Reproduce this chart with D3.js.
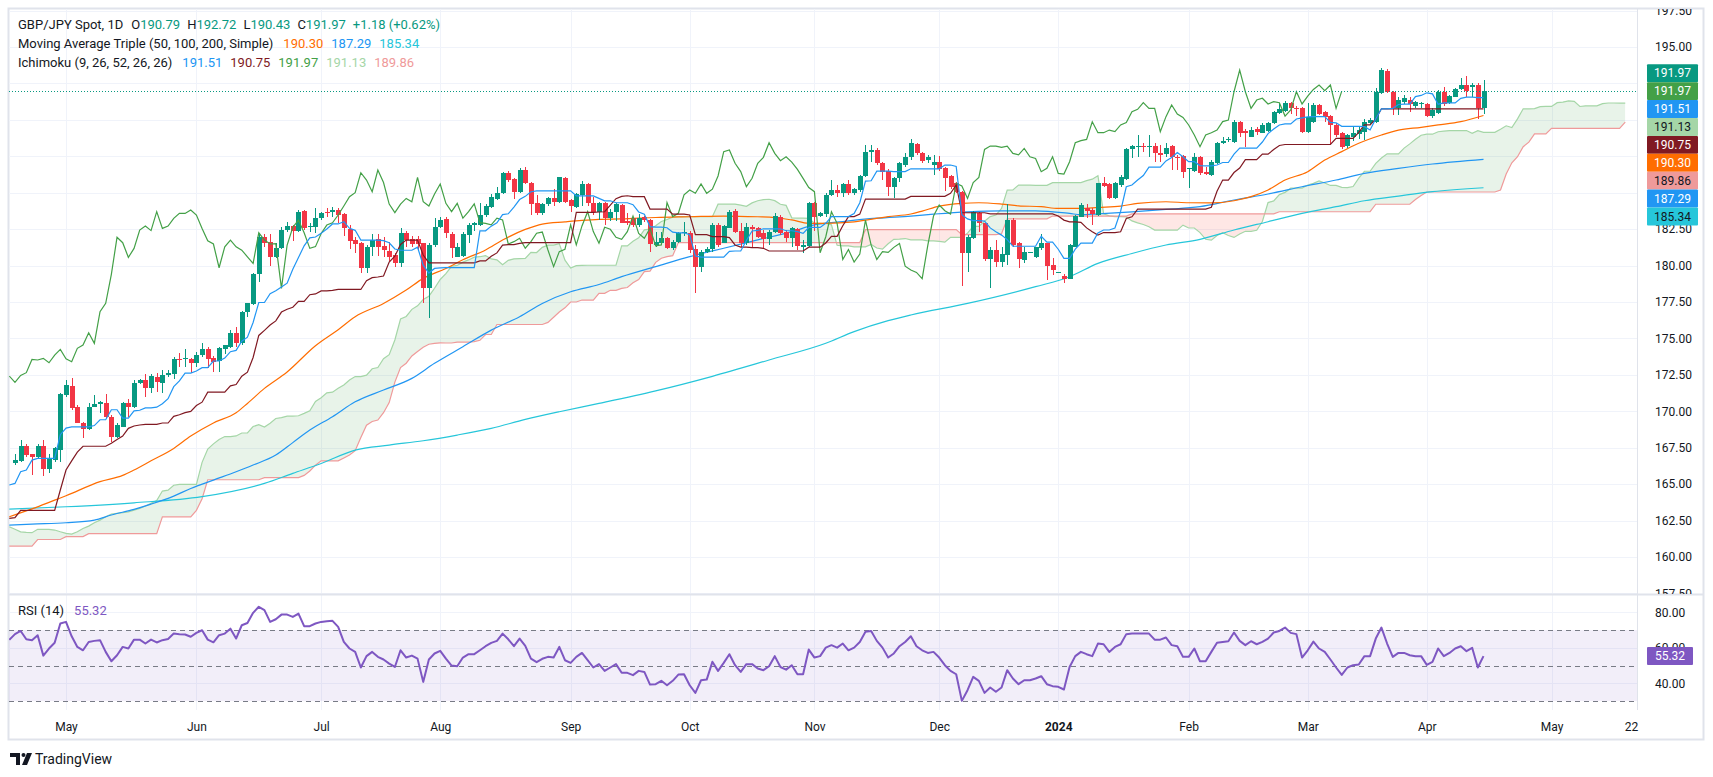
<!DOCTYPE html>
<html><head><meta charset="utf-8">
<script src="https://cdn.jsdelivr.net/npm/d3@7"></script>
<style>
body{margin:0;background:#fff;}
svg{display:block;font-family:Roboto,"Noto Sans",sans-serif;}
</style></head>
<body><svg id="c" width="1713" height="777"></svg>
<script>
// ---------------- DATA ----------------
const firstBar = -9; // bar index of first candle (0 = 1 May 2023, weekday bars)
const openP = [166.43,166.61,167.61,167.06,166.88,167.61,166.04,166.65,167.34,
171.11,171.73,170.31,169.17,168.76,170.31,170.5,170.6,169.63,168.26,
168.94,170.54,170.27,171.91,172.14,171.57,172.37,171.96,172.46,172.56,
173.6,173.56,173.6,173.29,173.86,174.25,173.63,173.47,174.25,174.43,
175.39,174.66,176.83,177.36,179.42,181.94,181.6,180.56,181.18,182.44,
182.71,182.4,183.74,182.62,182.67,183.24,183.7,183.7,183.81,183.54,
182.48,181.75,181.57,179.85,181.29,181.8,181.34,181.02,180.72,180.2,
182.25,181.8,181.8,181.52,178.43,181.41,182.62,183.17,182.2,180.6,
180.65,182.1,182.78,182.78,183.47,184.04,184.54,184.95,186.33,185.92,
185.07,186.56,185.7,184.31,183.63,184.22,184.61,184.38,185.98,184.5,
184.0,184.84,185.6,184.27,183.7,184.27,183.25,183.7,184.16,183.09,
183.25,182.79,183.31,183.13,181.42,181.53,181.87,181.19,181.6,182.22,
182.22,181.12,179.93,180.96,181.12,182.79,181.57,182.56,183.77,182.4,
181.58,182.67,182.56,182.22,181.8,182.33,183.36,182.33,181.87,182.49,
181.3,181.35,184.27,183.4,183.54,184.85,185.19,184.96,185.6,184.96,
185.19,186.15,187.82,187.93,187.07,186.5,185.42,185.99,186.9,187.42,
188.32,187.74,187.24,186.9,187.12,186.67,186.14,185.68,185.07,180.88,
181.86,183.63,182.9,180.42,181.1,180.24,180.74,183.12,181.56,180.38,
180.88,180.6,181.18,181.52,180.03,179.5,179.28,179.1,181.3,183.35,
183.92,183.81,183.47,185.64,185.6,184.61,185.53,185.92,187.97,188.18,
188.2,188.18,188.2,187.7,187.65,188.2,187.47,187.51,186.6,186.51,
187.42,186.44,186.21,187.06,188.39,188.62,188.5,189.87,189.26,188.85,
189.35,189.12,189.26,189.76,190.49,190.63,191.18,190.83,190.79,189.19,
189.87,191.02,190.56,190.26,189.65,189.12,188.2,188.85,189.03,189.19,
189.81,189.88,191.86,193.38,191.93,190.79,191.25,191.36,190.95,191.09,
191.09,190.26,190.49,191.93,191.13,191.59,192.09,192.39,192.27,192.39,
190.79];
const highP = [167.06,168.0,167.73,167.1,167.73,168.0,167.06,167.57,171.23,
172.14,172.3,170.43,169.28,170.59,171.1,170.73,171.16,169.74,169.22,
170.66,170.82,172.14,172.23,172.56,172.56,172.65,172.83,172.83,173.75,
173.97,174.25,173.63,174.09,174.71,174.39,173.79,174.43,174.55,175.58,
175.76,176.9,177.45,179.47,182.21,182.16,182.16,181.57,182.62,183.01,
182.78,183.81,183.81,182.9,183.92,183.7,183.92,184.0,183.92,183.63,
182.78,181.93,181.64,181.38,182.16,182.16,181.98,181.64,180.88,182.6,
182.39,182.03,182.0,181.57,181.57,183.24,183.31,183.35,182.32,181.52,
182.3,182.94,183.0,184.27,184.22,184.91,185.37,186.44,186.51,185.98,
186.67,186.79,185.76,184.84,184.27,184.73,185.23,186.1,186.1,184.54,
184.95,185.83,185.69,184.69,184.38,184.39,183.86,184.32,184.23,183.63,
183.36,183.54,183.4,183.18,182.33,182.33,181.94,181.76,182.33,183.02,
182.4,181.42,181.07,181.26,182.9,182.9,182.79,183.82,183.86,182.9,
182.9,182.79,182.67,182.44,182.44,183.59,183.47,182.44,182.63,182.56,
181.76,184.39,184.39,183.7,184.96,185.88,185.53,185.69,185.88,185.3,
186.22,188.28,188.28,188.05,187.13,186.6,186.1,187.13,187.71,188.66,
188.38,187.81,187.58,187.58,187.51,186.74,186.21,185.75,185.14,182.09,
183.74,183.69,182.94,181.29,181.75,181.29,184.22,183.24,181.63,181.29,
180.93,181.29,182.2,181.56,180.49,179.55,179.42,181.45,183.47,184.31,
184.22,183.92,185.69,186.1,185.69,185.75,186.21,188.04,188.27,188.96,
188.43,188.96,188.43,188.27,188.38,188.27,187.58,187.58,186.67,187.7,
187.51,186.78,187.24,188.5,188.85,188.85,189.99,189.94,189.35,189.49,
189.49,189.76,189.88,190.63,191.18,191.32,191.25,190.95,190.9,191.13,
191.13,191.09,190.63,190.33,189.76,189.19,189.03,189.58,189.49,190.04,
190.1,192.16,193.54,193.47,192.0,191.59,191.7,191.54,191.32,191.25,
191.18,190.79,192.05,192.23,191.7,192.16,192.85,193.01,192.55,192.5,
192.72];
const lowP = [166.29,166.54,166.88,165.63,166.77,165.56,165.74,166.54,166.54,
171.0,170.09,169.17,168.14,168.71,170.27,169.86,169.5,167.91,168.2,
168.9,169.63,170.2,171.87,171.0,171.27,171.34,171.27,172.37,172.19,
173.06,173.06,172.6,173.06,173.75,172.94,172.72,172.72,173.93,174.34,
174.43,174.57,176.49,177.29,178.9,181.3,180.0,180.5,181.11,182.33,
181.71,182.33,182.44,182.32,182.25,183.12,183.31,183.31,182.9,182.03,
181.11,180.84,179.5,179.5,180.65,180.65,180.6,180.33,179.92,179.92,
181.3,181.3,181.0,177.45,176.37,181.3,182.55,181.87,180.5,180.56,
180.6,181.52,182.39,182.71,183.35,183.93,184.5,184.91,185.76,184.54,
185.0,185.6,183.47,183.47,183.47,184.09,184.09,184.31,184.27,183.7,
183.93,184.09,184.09,183.47,183.12,182.79,183.08,183.08,182.9,182.79,
182.67,182.67,183.02,180.96,181.3,181.42,181.12,181.07,181.53,182.03,
180.84,178.14,179.58,180.89,180.96,181.3,181.53,182.56,182.26,181.3,
181.42,181.19,181.87,181.19,181.42,182.21,182.1,181.64,181.26,181.07,
180.84,181.26,182.4,183.31,183.36,184.78,184.69,184.69,184.85,184.85,
185.08,186.1,187.13,186.9,185.88,184.78,184.62,185.76,186.79,187.24,
187.58,187.02,187.02,186.21,186.51,185.14,185.23,184.95,178.59,179.58,
181.8,182.32,180.33,178.43,179.87,179.92,180.04,181.29,179.8,180.15,
180.84,180.49,181.1,179.0,179.35,179.48,178.78,179.05,181.25,183.31,
183.24,182.78,183.4,185.37,184.54,184.54,185.41,185.87,187.35,187.47,
187.81,187.42,187.12,187.12,187.42,186.55,186.55,185.98,185.3,186.44,
186.21,186.21,186.14,186.97,188.34,188.5,188.43,188.8,188.12,188.8,
188.96,189.08,189.19,189.71,190.4,190.56,190.4,190.26,189.12,189.12,
189.81,190.33,189.87,188.34,188.85,187.98,188.04,188.57,188.66,188.62,
189.65,189.81,191.77,191.86,190.33,190.33,191.09,190.56,190.79,190.79,
190.17,190.1,190.4,190.95,191.09,191.54,192.05,191.59,191.54,190.04,
190.43];
const closeP = [166.65,167.61,167.0,166.88,167.61,166.04,166.7,167.45,171.16,
171.8,170.2,169.2,168.76,170.31,170.5,170.65,169.63,168.21,169.06,
170.54,170.31,171.96,172.14,171.57,172.42,171.98,172.46,172.65,173.56,
173.52,173.63,173.33,173.86,174.25,173.6,173.4,174.32,174.55,175.39,
174.66,176.83,177.41,179.4,181.94,181.57,180.56,181.18,182.44,182.71,
182.4,183.7,182.55,182.71,183.24,183.58,183.58,183.81,183.47,182.55,
181.7,181.48,179.85,181.29,181.75,181.29,181.06,180.6,180.15,182.25,
181.75,181.48,181.5,178.43,181.41,182.62,183.12,182.25,181.18,181.3,
182.2,182.78,182.94,183.47,184.09,184.73,185.0,186.37,185.87,185.07,
186.56,185.7,184.22,183.63,184.22,184.61,184.38,186.05,184.38,184.09,
184.91,185.6,184.27,183.7,184.27,183.25,183.7,184.23,182.95,182.9,
182.79,183.25,183.13,181.48,181.64,181.87,181.19,181.64,182.22,182.3,
181.07,179.93,180.96,181.12,182.79,181.42,182.72,183.7,182.33,181.53,
182.63,182.49,181.94,181.8,182.33,183.4,182.21,181.87,182.56,181.35,
181.42,184.32,183.36,183.59,184.85,185.19,184.96,185.6,184.96,185.24,
186.15,187.82,187.93,187.02,186.45,185.42,185.99,187.02,187.43,188.43,
187.7,187.2,187.47,187.1,186.6,185.98,185.36,185.07,180.88,181.98,
183.69,182.9,180.42,181.1,180.24,180.79,183.12,181.4,180.42,180.95,
180.9,181.25,181.52,179.96,179.69,179.53,179.1,181.41,183.4,184.15,
183.76,183.54,185.64,185.46,184.61,185.69,186.05,187.97,188.2,188.2,
188.11,188.2,187.7,187.6,188.04,187.47,187.35,186.44,186.67,187.47,
186.33,186.28,187.13,188.43,188.57,188.66,189.87,189.12,189.12,189.3,
189.19,189.65,189.81,190.56,190.72,191.18,190.79,190.79,189.19,190.22,
191.02,190.4,190.17,189.65,188.96,188.16,188.96,189.12,189.3,189.88,
189.99,191.93,193.42,191.93,190.79,191.36,191.48,191.09,191.25,191.18,
190.26,190.68,191.93,191.09,191.63,192.09,192.39,192.0,192.39,190.79,
191.97];

const rsiFirst = -10;
const rsiVals = [64.5,67.7,69.5,64.8,64.3,67.1,55.6,59.6,62.8,73.7,
74.6,66.5,60.5,58.6,63.3,63.9,64.3,57.7,52.4,55.8,
60.5,59.6,64.6,64.6,62.4,64.6,63.0,64.3,65.0,68.0,
67.7,67.5,66.2,68.4,69.9,64.6,63.1,67.1,68.0,70.8,
65.2,72.7,74.0,79.7,83.1,81.2,74.6,76.1,78.7,78.7,
77.4,79.3,72.2,72.2,73.7,74.6,75.0,75.2,71.8,63.3,
59.6,57.7,48.9,55.3,57.7,54.9,53.4,51.1,49.2,58.6,
54.5,55.6,53.9,40.8,53.4,56.8,58.3,53.9,50.0,49.6,
54.5,56.4,56.4,58.6,60.9,62.8,63.9,68.0,64.8,60.9,
65.2,61.1,53.9,51.9,53.8,54.9,54.5,60.5,53.0,51.5,
54.9,57.1,53.0,48.9,50.8,47.0,48.9,50.8,45.9,45.9,
44.6,47.0,46.4,39.3,39.5,41.4,38.9,41.4,44.9,45.1,
38.9,34.6,41.7,42.1,52.1,47.0,51.5,56.4,50.2,46.4,
50.8,50.8,48.3,47.4,49.6,55.3,49.2,47.7,50.2,45.1,
45.1,59.0,54.5,55.3,60.1,61.5,60.1,62.4,58.6,60.1,
63.3,69.0,69.5,63.9,60.1,54.5,56.8,60.9,63.3,66.5,
60.9,58.6,57.1,57.7,54.5,50.2,47.0,45.1,30.1,36.1,
43.6,41.4,34.6,37.6,35.2,37.6,47.4,42.7,39.5,41.7,
41.7,42.7,44.0,39.5,38.4,38.0,36.5,49.2,55.3,57.7,
56.4,55.3,62.4,62.0,57.7,60.5,62.0,67.7,68.0,68.0,
68.0,68.0,64.6,64.6,65.8,61.5,60.9,54.9,54.9,59.6,
52.4,52.4,57.7,62.8,63.3,63.7,68.6,63.9,61.5,63.7,
62.0,63.3,65.2,68.6,69.5,71.4,68.4,67.7,54.5,58.6,
63.5,59.6,57.7,53.4,48.9,44.7,48.9,50.2,50.6,55.3,
55.3,65.2,71.4,62.4,54.9,57.1,57.1,55.8,55.3,55.3,
50.4,52.1,59.6,55.3,57.1,59.6,60.9,58.1,60.0,48.9,
55.32];

const ichiHeadFirst = -10;
const tenkanHead = [164.94,165.05,165.85,165.97,166.65,166.77,166.77,166.77,166.77]; // bars -10..-2
const kijunHead = [162.65,162.7,163.2,163.2,163.2,163.2,163.2,163.2,163.2,164.6,165.97,166.6,167.2,
167.6,167.6,167.6,167.6,167.6,167.8,168.07,168.3,168.83,168.99,169.06,169.1,169.1]; // -10..15
const spanAHead = [162.08,161.9,161.73,161.69,161.67,161.9,161.9,161.9,161.85,161.73,161.62,161.57,
161.73,161.96,162.12,162.35,162.53,162.76,162.95,163.0,163.04,163.1,163.22,163.34,163.5,163.68]; // -10..15
const spanBHead = [160.75,160.75,160.75,160.75,160.75,161.2,161.2,161.2,161.2,161.2,
161.4,161.4,161.4,161.4,161.6,161.6,161.6,161.6,161.6,161.6,161.6,161.6,161.6,161.6,161.6,161.6,161.6,
162.76,162.76,162.76,162.76,162.76,162.76,163.2,164.0,
165.3,165.3,165.3,165.3,165.3,165.3,165.3,165.3,165.3,165.3,
165.45,165.45,165.45,165.45,165.45,165.45,165.45,
165.6,165.9,166.3,166.6,166.6,166.6,166.6,166.8,167.0,167.3,168.2,169.05,169.3,169.4,169.9,
170.6,172.0,173.0,173.3,173.8,174.1,174.4,174.6,174.66,174.7]; // -10..66
const ichiShift = 25;

// Moving averages: [bar, value]
const ma50 = [[-10,162.76],[-6,163.3],[-2,163.9],[0,164.2],[6,165.17],[10,165.6],[12,165.97],[15,166.6],
[19,167.45],[22,168.3],[26,169.2],[30,169.9],[32,170.54],[35,171.57],[39,172.7],[44,174.5],[48,175.6],
[51,176.49],[56,177.4],[60,178.32],[63,179.12],[67,179.8],[70,180.4],[74,181.07],[77,181.75],[81,182.48],
[84,182.85],[88,183.0],[91,183.1],[94,183.17],[98,183.2],[104,183.3],[110,183.35],[116,183.4],[122,183.35],
[125,183.3],[128,183.13],[131,182.9],[134,182.9],[139,183.0],[145,183.36],[149,183.54],[151,183.74],
[154,184.08],[158,184.27],[161,184.31],[165,184.22],[168,184.1],[172,184.04],[175,183.92],[179,183.92],
[182,183.99],[186,184.08],[189,184.27],[194,184.38],[198,184.31],[202,184.3],[206,184.45],[209,184.73],
[212,185.19],[215,185.87],[219,186.44],[222,187.24],[225,187.82],[228,188.39],[232,188.96],[235,189.3],
[239,189.49],[242,189.65],[246,189.88],[250,190.30]];
const ma100 = [[-10,162.19],[-6,162.26],[0,162.35],[5,162.53],[8,162.88],[12,163.27],[15,163.63],[19,164.18],
[22,164.7],[26,165.28],[30,165.85],[33,166.31],[37,167.0],[40,167.85],[43,168.71],[47,169.63],[51,170.65],
[56,171.46],[61,172.26],[65,173.29],[70,174.43],[75,175.57],[80,176.49],[84,177.4],[89,178.2],[94,178.7],
[98,179.24],[104,179.93],[110,180.61],[116,181.19],[122,181.76],[128,182.33],[132,182.79],[137,183.02],
[143,183.25],[149,183.4],[153,183.53],[159,183.69],[165,183.76],[171,183.76],[177,183.58],[179,183.49],
[182,183.55],[188,183.69],[194,183.85],[200,184.04],[206,184.5],[212,184.91],[218,185.41],[224,185.87],
[229,186.33],[235,186.67],[241,186.97],[250,187.29]];
const ma200 = [[-10,163.29],[0,163.45],[12,163.72],[24,164.14],[35,165.05],[40,165.74],[45,166.42],
[51,167.34],[57,167.68],[63,167.98],[69,168.37],[75,168.83],[81,169.44],[87,169.97],[94,170.54],
[104,171.4],[114,172.4],[124,173.52],[134,174.67],[139,175.47],[145,176.22],[149,176.61],[159,177.4],
[171,178.55],[177,179.23],[182,180.15],[188,180.83],[194,181.41],[200,181.8],[206,182.44],[212,183.01],
[218,183.58],[224,184.04],[229,184.45],[235,184.77],[241,185.07],[250,185.34]];

// Legend / last readings
const lastOHLC = {o:190.79, h:192.72, l:190.43, c:191.97, chg:"+1.18", pct:"(+0.62%)"};
const maLast = [190.30, 187.29, 185.34];
const ichiLast = [191.51, 190.75, 191.97, 191.13, 189.86]; // tenkan, kijun, chikou, spanA, spanB
const rsiLast = 55.32;

const priceTicks = [157.5,160,162.5,165,167.5,170,172.5,175,177.5,180,182.5,185,187.5,190,192.5,195,197.5];
const rsiTicks = [80,60,40];
const rsiLevels = [70,50,30];
const timeTickBars = [0,23,45,66,89,110,132,154,175,198,219,240,262,276];
const timeTickLabels = ["May","Jun","Jul","Aug","Sep","Oct","Nov","Dec","2024","Feb","Mar","Apr","May","22"];

// ---------------- LAYOUT ----------------
const L = 9, R = 1637, T = 9, MB = 594, RT = 595, RB = 710, AXB = 739, FR = 1703;
const C = {up:"#089981", dn:"#F23645", grid:"#f0f3fa", border:"#e0e3eb", text:"#131722",
  ma50:"#FF6D00", ma100:"#2196F3", ma200:"#26C6DA", tenkan:"#2196F3", kijun:"#801922",
  chikou:"#43A047", spanA:"#A5D6A7", spanB:"#EF9A9A", rsi:"#7E57C2"};

const svg = d3.select("#c");
const x = d3.scaleLinear().domain([0,240]).range([66,1426.8]);
const y = d3.scaleLinear().domain([160,195]).range([557,47]);
const yr = d3.scaleLinear().domain([40,80]).range([683.3,612.3]);

// frame
svg.append("rect").attr("x",0).attr("y",0).attr("width",1713).attr("height",777).attr("fill","#fff");
svg.append("rect").attr("x",L-0.5).attr("y",T-0.5).attr("width",FR-L+1).attr("height",AXB-T+1)
  .attr("fill","none").attr("stroke",C.border).attr("stroke-width",2);

const defs = svg.append("defs");
defs.append("clipPath").attr("id","clipMain").append("rect").attr("x",L).attr("y",T).attr("width",R-L).attr("height",MB-T);
defs.append("clipPath").attr("id","clipRsi").append("rect").attr("x",L).attr("y",RT).attr("width",R-L).attr("height",RB-RT);
defs.append("clipPath").attr("id","clipAxis").append("rect").attr("x",R).attr("y",T).attr("width",FR-R).attr("height",MB-T);

// grids
const gGrid = svg.append("g");
gGrid.selectAll(".hg").data(priceTicks).join("line")
  .attr("x1",L).attr("x2",R).attr("y1",d=>Math.round(y(d))+0.5).attr("y2",d=>Math.round(y(d))+0.5)
  .attr("stroke",C.grid);
gGrid.selectAll(".rg").data(rsiTicks).join("line")
  .attr("x1",L).attr("x2",R).attr("y1",d=>Math.round(yr(d))+0.5).attr("y2",d=>Math.round(yr(d))+0.5)
  .attr("stroke",C.grid);
gGrid.selectAll(".vg").data(timeTickBars.slice(0,-1)).join("line")
  .attr("x1",d=>Math.round(x(d))+0.5).attr("x2",d=>Math.round(x(d))+0.5).attr("y1",T).attr("y2",RB)
  .attr("stroke",C.grid);

// ---------------- computed Ichimoku ----------------
const bar = i => i - firstBar;
function hh(a,b){let m=-Infinity;for(let j=a;j<=b;j++)m=Math.max(m,highP[bar(j)]);return m;}
function ll(a,b){let m=Infinity;for(let j=a;j<=b;j++)m=Math.min(m,lowP[bar(j)]);return m;}
const lastBar = firstBar + closeP.length - 1;
function tenkan(i){ return i < -1 ? tenkanHead[i-ichiHeadFirst] : (hh(i-8,i)+ll(i-8,i))/2; }
function kijun(i){ return i < 16 ? kijunHead[i-ichiHeadFirst] : (hh(i-25,i)+ll(i-25,i))/2; }
function spanA(i){ return i < 16 ? spanAHead[i-ichiHeadFirst] : (tenkan(i-ichiShift)+kijun(i-ichiShift))/2; }
function spanB(i){ return i < 67 ? spanBHead[i-ichiHeadFirst] : (hh(i-76,i-25)+ll(i-76,i-25))/2; }

const main = svg.append("g").attr("clip-path","url(#clipMain)");

// cloud
const cloud = d3.range(-10, lastBar+ichiShift+1).map(i=>({i,a:spanA(i),b:spanB(i)}));
defs.append("clipPath").attr("id","abvB").append("path")
  .attr("d", d3.area().x(d=>x(d.i)).y0(T).y1(d=>y(d.b))(cloud));
defs.append("clipPath").attr("id","blwB").append("path")
  .attr("d", d3.area().x(d=>x(d.i)).y0(MB).y1(d=>y(d.b))(cloud));
main.append("path").attr("clip-path","url(#abvB)")
  .attr("d", d3.area().x(d=>x(d.i)).y0(MB).y1(d=>y(d.a))(cloud)).attr("fill","rgba(67,160,71,0.12)");
main.append("path").attr("clip-path","url(#blwB)")
  .attr("d", d3.area().x(d=>x(d.i)).y0(T).y1(d=>y(d.a))(cloud)).attr("fill","rgba(244,67,54,0.13)");
const ln = d3.line().x(d=>x(d[0])).y(d=>y(d[1]));
main.append("path").attr("d", ln(cloud.map(d=>[d.i,d.a]))).attr("fill","none").attr("stroke",C.spanA).attr("stroke-width",1.2);
main.append("path").attr("d", ln(cloud.map(d=>[d.i,d.b]))).attr("fill","none").attr("stroke",C.spanB).attr("stroke-width",1.2);

// MAs
const lnS = d3.line().x(d=>x(d[0])).y(d=>y(d[1])).curve(d3.curveMonotoneX);
[[ma200,C.ma200],[ma100,C.ma100],[ma50,C.ma50]].forEach(([d,c])=>{
  main.append("path").attr("d",lnS(d)).attr("fill","none").attr("stroke",c).attr("stroke-width",1.2);
});

// candles
const bars = closeP.map((c,k)=>({i:firstBar+k,o:openP[k],h:highP[k],l:lowP[k],c}));
const gC = main.append("g").attr("shape-rendering","crispEdges");
bars.forEach(b=>{
  const cx = Math.round(x(b.i)); const col = b.c>=b.o?C.up:C.dn;
  gC.append("rect").attr("x",cx).attr("width",1).attr("y",y(b.h)).attr("height",Math.max(1,y(b.l)-y(b.h))).attr("fill",col);
  const top = y(Math.max(b.o,b.c)), bot = y(Math.min(b.o,b.c));
  gC.append("rect").attr("x",cx-2).attr("width",5).attr("y",top).attr("height",Math.max(1,bot-top)).attr("fill",col);
});

// Ichimoku lines
const idx = d3.range(-10, lastBar+1);
main.append("path").attr("d", ln(d3.range(-10, lastBar-ichiShift+1).map(i=>[i, closeP[bar(i+ichiShift)]])))
  .attr("fill","none").attr("stroke",C.chikou).attr("stroke-width",1.2);
main.append("path").attr("d", ln(idx.map(i=>[i,kijun(i)]))).attr("fill","none").attr("stroke",C.kijun).attr("stroke-width",1.2);
main.append("path").attr("d", ln(idx.map(i=>[i,tenkan(i)]))).attr("fill","none").attr("stroke",C.tenkan).attr("stroke-width",1.2);

// last close dotted line
svg.append("line").attr("x1",L).attr("x2",R).attr("y1",Math.round(y(lastOHLC.c))+0.5).attr("y2",Math.round(y(lastOHLC.c))+0.5)
  .attr("stroke",C.up).attr("stroke-dasharray","1,2");

// ---------------- RSI pane ----------------
const rsiG = svg.append("g").attr("clip-path","url(#clipRsi)");
rsiG.append("rect").attr("x",L).attr("width",R-L).attr("y",yr(70)).attr("height",yr(30)-yr(70)).attr("fill","rgba(126,87,194,0.1)");
rsiG.selectAll(".lv").data(rsiLevels).join("line")
  .attr("x1",L).attr("x2",R).attr("y1",d=>Math.round(yr(d))+0.5).attr("y2",d=>Math.round(yr(d))+0.5)
  .attr("stroke","#787B86").attr("stroke-dasharray","5,4");
rsiG.append("path").attr("d", d3.line().x((d,k)=>x(rsiFirst+k)).y(d=>yr(d))(rsiVals))
  .attr("fill","none").attr("stroke",C.rsi).attr("stroke-width",2).attr("stroke-linejoin","round");

// separators
svg.append("line").attr("x1",L).attr("x2",FR).attr("y1",MB+0.5).attr("y2",MB+0.5).attr("stroke",C.border).attr("stroke-width",2);
svg.append("line").attr("x1",R+0.5).attr("x2",R+0.5).attr("y1",T).attr("y2",RB).attr("stroke",C.border);

// ---------------- price labels (computed first so covered ticks can be hidden) ----------------
const fmt = d3.format(".2f");
const plabels = [
  {v:lastOHLC.c, fill:C.up, tc:"#fff"},
  {v:ichiLast[2], fill:C.chikou, tc:"#fff", anchor:true},
  {v:ichiLast[0], fill:C.tenkan, tc:"#fff"},
  {v:ichiLast[3], fill:C.spanA, tc:C.text},
  {v:ichiLast[1], fill:C.kijun, tc:"#fff"},
  {v:maLast[0], fill:C.ma50, tc:"#fff"},
  {v:ichiLast[4], fill:C.spanB, tc:C.text},
  {v:maLast[1], fill:C.ma100, tc:"#fff"},
  {v:maLast[2], fill:C.ma200, tc:C.text}
];
const LH = 17.9;
const ai = plabels.findIndex(d=>d.anchor);
plabels[ai].cy = y(plabels[ai].v);
for(let k=ai+1;k<plabels.length;k++) plabels[k].cy = Math.max(y(plabels[k].v), plabels[k-1].cy+LH);
for(let k=ai-1;k>=0;k--) plabels[k].cy = Math.min(y(plabels[k].v), plabels[k+1].cy-LH);
const blockTop = plabels[0].cy - LH/2, blockBot = plabels[plabels.length-1].cy + LH/2;

// ---------------- axes ----------------
const ax = svg.append("g").attr("clip-path","url(#clipAxis)").append("g").attr("transform",`translate(${R},0)`)
  .call(d3.axisRight(y).tickValues(priceTicks.filter(v=>{const p=y(v);return p<blockTop-6||p>blockBot;}))
    .tickFormat(fmt).tickSize(0).tickPadding(18));
ax.select(".domain").remove();
ax.selectAll("text").attr("fill",C.text).attr("font-size",12).attr("font-family","Roboto");
const axr = svg.append("g").attr("transform",`translate(${R},0)`)
  .call(d3.axisRight(yr).tickValues(rsiTicks).tickFormat(fmt).tickSize(0).tickPadding(18));
axr.select(".domain").remove();
axr.selectAll("text").attr("fill",C.text).attr("font-size",12).attr("font-family","Roboto");
const axb = svg.append("g").attr("transform",`translate(0,${RB})`)
  .call(d3.axisBottom(x).tickValues(timeTickBars).tickFormat((d,k)=>timeTickLabels[k]).tickSize(0).tickPadding(12));
axb.select(".domain").remove();
axb.selectAll("text").attr("fill",C.text).attr("font-size",12).attr("font-family","Roboto")
  .attr("font-weight",(d,k)=>timeTickLabels[k]==="2024"?"bold":"normal");

const pl = svg.append("g").selectAll("g").data(plabels).join("g").attr("transform",d=>`translate(1647,${d.cy})`);
pl.append("rect").attr("x",0).attr("y",-LH/2).attr("width",51).attr("height",LH).attr("rx",1).attr("fill",d=>d.fill);
pl.append("text").attr("x",25.5).attr("text-anchor","middle").attr("dy","0.35em").attr("font-size",12)
  .attr("fill",d=>d.tc).text(d=>fmt(d.v));
const rl = svg.append("g").attr("transform",`translate(1647,${yr(rsiLast)})`);
rl.append("rect").attr("x",0).attr("y",-9).attr("width",46).attr("height",18).attr("rx",1).attr("fill",C.rsi);
rl.append("text").attr("x",23).attr("text-anchor","middle").attr("dy","0.35em").attr("font-size",12).attr("fill","#fff").text(fmt(rsiLast));

// ---------------- legend ----------------
function legendLine(yy, parts){
  const t = svg.append("text").attr("x",18).attr("y",yy).attr("dy","0.35em").attr("font-size",13).attr("fill",C.text);
  parts.forEach(p=>t.append("tspan").attr("fill",p[1]||C.text).attr("dx",p[2]||0).text(p[0]));
}
legendLine(24,[["GBP/JPY Spot, 1D"],["O",C.text,8],[fmt(lastOHLC.o),C.up],["H",C.text,7],[fmt(lastOHLC.h),C.up],
  ["L",C.text,7],[fmt(lastOHLC.l),C.up],["C",C.text,7],[fmt(lastOHLC.c),C.up],[lastOHLC.chg+" "+lastOHLC.pct,C.up,7]]);
legendLine(43,[["Moving Average Triple (50, 100, 200, Simple)"],[fmt(maLast[0]),C.ma50,10],[fmt(maLast[1]),C.ma100,8],[fmt(maLast[2]),C.ma200,8]]);
legendLine(62,[["Ichimoku (9, 26, 52, 26, 26)"],[fmt(ichiLast[0]),C.tenkan,10],[fmt(ichiLast[1]),C.kijun,8],
  [fmt(ichiLast[2]),C.chikou,8],[fmt(ichiLast[3]),C.spanA,8],[fmt(ichiLast[4]),C.spanB,8]]);
legendLine(610,[["RSI (14)"],[fmt(rsiLast),C.rsi,10]]);

// logo
const lg = svg.append("g").attr("fill",C.text);
lg.append("path").attr("d","M10 753h10v12h-4v-8h-6z");
lg.append("circle").attr("cx",23.5).attr("cy",755).attr("r",2);
lg.append("path").attr("d","M27 753h5l-5 12h-5z");
svg.append("text").attr("x",35).attr("y",759).attr("dy","0.35em").attr("font-size",14).attr("fill",C.text).text("TradingView");
</script></body></html>
